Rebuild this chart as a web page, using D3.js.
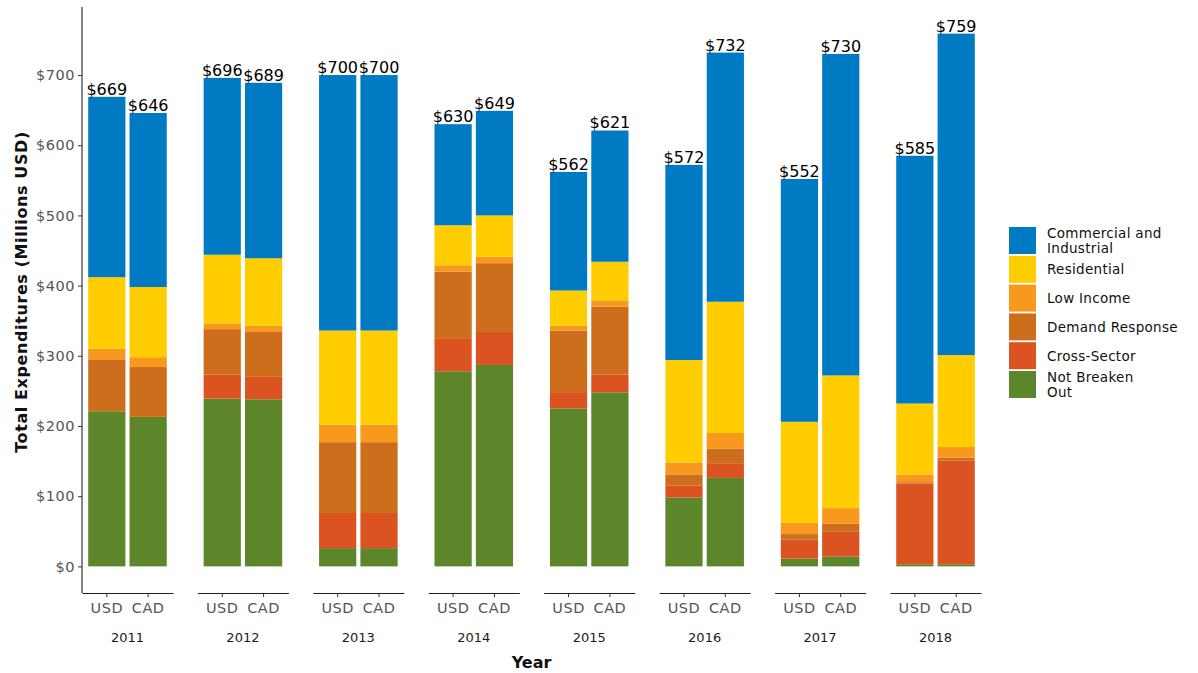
<!DOCTYPE html>
<html>
<head>
<meta charset="utf-8">
<script src="https://cdn.jsdelivr.net/npm/d3@7"></script>
<style>
  body { margin: 0; background: #fff; }
  text { font-family: "DejaVu Sans", sans-serif; }
</style>
</head>
<body>
<script>
var years = ["2011", "2012", "2013", "2014", "2015", "2016", "2017", "2018"];
var currencies = ["USD", "CAD"];
// legend order (top of stack first)
var categories = ["Commercial and Industrial", "Residential", "Low Income",
                  "Demand Response", "Cross-Sector", "Not Breaken Out"];
var colors = ["#007ac2", "#ffcd00", "#f8991d", "#cd6e1c", "#da5320", "#5c8629"];
var yTicks = [0, 100, 200, 300, 400, 500, 600, 700];

// one value per bar: 2011 USD, 2011 CAD, 2012 USD, 2012 CAD, ...
var notBroken      = [221, 213, 239, 238, 26, 26, 278, 287, 225, 248, 98, 126, 11, 14, 3, 3];
var crossSector    = [0, 0, 34, 32, 50, 50, 46, 47, 22, 25, 17, 21, 27, 36, 115, 148];
var demandResponse = [74, 71, 65, 64, 101, 101, 96, 98, 89, 97, 16, 21, 8, 11, 2, 4];
var lowIncome      = [15, 14, 8, 9, 25, 25, 9, 9, 7, 9, 17, 22, 16, 22, 11, 15];
var residential    = [102, 100, 98, 96, 134, 134, 57, 59, 50, 55, 146, 187, 144, 189, 101, 131];
var commercial     = [257, 248, 252, 250, 364, 364, 144, 149, 169, 187, 278, 355, 346, 458, 353, 458];

var seriesByCat = {
  "Commercial and Industrial": commercial,
  "Residential": residential,
  "Low Income": lowIncome,
  "Demand Response": demandResponse,
  "Cross-Sector": crossSector,
  "Not Breaken Out": notBroken
};

var rows = [];
years.forEach(function(yr, i) {
  currencies.forEach(function(cur, j) {
    var k = i * 2 + j;
    var r = {year: yr, cur: cur};
    categories.forEach(function(c) { r[c] = seriesByCat[c][k]; });
    r.total = d3.sum(categories, function(c) { return r[c]; });
    rows.push(r);
  });
});

var color = d3.scaleOrdinal().domain(categories).range(colors);
var stackKeys = categories.slice().reverse(); // bottom first
var stacked = d3.stack().keys(stackKeys)(rows);

var width = 1198, height = 673;
var svg = d3.select("body").append("svg")
    .attr("width", width)
    .attr("height", height);

var maxTotal = d3.max(rows, function(d) { return d.total; });
var y = d3.scaleLinear()
    .domain([-0.05 * maxTotal, maxTotal * 1.05])
    .range([593, 7]);

var xYear = d3.scaleBand().domain(years).range([82, 981]).paddingInner(0.212);
var xCur = d3.scaleBand().domain(currencies).range([0, xYear.bandwidth()])
    .paddingInner(0.1).paddingOuter(0.15);

function barX(d) { return xYear(d.year) + xCur(d.cur); }

// bars
svg.append("g").selectAll("g")
    .data(stacked)
  .enter().append("g")
    .attr("fill", function(s) { return color(s.key); })
  .selectAll("rect")
    .data(function(s) { return s; })
  .enter().append("rect")
    .attr("x", function(d) { return barX(d.data); })
    .attr("width", xCur.bandwidth())
    .attr("y", function(d) { return y(d[1]); })
    .attr("height", function(d) { return y(d[0]) - y(d[1]); });

// total labels
svg.append("g").selectAll("text")
    .data(rows)
  .enter().append("text")
    .attr("x", function(d) { return barX(d) + xCur.bandwidth() / 2; })
    .attr("y", function(d) { return y(d.total) - 2; })
    .attr("text-anchor", "middle")
    .style("font-size", "16px")
    .style("fill", "#000")
    .text(function(d) { return "$" + d3.format(".0f")(d.total); });

// y axis
var yAxis = d3.axisLeft(y).tickValues(yTicks).tickSize(4).tickPadding(3)
    .tickFormat(function(d) { return "$" + d; });
var gy = svg.append("g").attr("transform", "translate(82,0)").call(yAxis);
gy.select(".domain").attr("d", "M0," + y.range()[1] + "V" + y.range()[0])
    .attr("stroke", "#222").attr("stroke-width", 1.1);
gy.selectAll(".tick line").attr("stroke", "#333");
gy.selectAll(".tick text").style("font-size", "14.5px").style("fill", "#555")
    .style("letter-spacing", "0.5px")
    .style("font-family", "DejaVu Sans");

// x axes, one per year panel
years.forEach(function(yr) {
  var sub = d3.scaleBand().domain(currencies)
      .range([xYear(yr), xYear(yr) + xYear.bandwidth()])
      .paddingInner(0.1).paddingOuter(0.15);
  var g = svg.append("g").attr("transform", "translate(0,593)")
      .call(d3.axisBottom(sub).tickSize(4).tickPadding(6).tickSizeOuter(0));
  g.select(".domain").attr("stroke", "#222").attr("stroke-width", 1.1);
  g.selectAll(".tick line").attr("stroke", "#333");
  g.selectAll(".tick text").style("font-size", "14.5px").style("fill", "#555")
      .style("letter-spacing", "0.5px")
      .style("font-family", "DejaVu Sans");
  svg.append("text")
      .attr("x", xYear(yr) + xYear.bandwidth() / 2)
      .attr("y", 642)
      .attr("text-anchor", "middle")
      .style("font-size", "13px")
      .style("fill", "#1a1a1a")
      .text(yr);
});

// axis titles
svg.append("text")
    .attr("x", (82 + 981) / 2)
    .attr("y", 668)
    .attr("text-anchor", "middle")
    .style("font-size", "16px")
    .style("font-weight", "bold")
    .style("fill", "#111")
    .text("Year");

svg.append("text")
    .attr("transform", "translate(27,292) rotate(-90)")
    .attr("text-anchor", "middle")
    .style("font-size", "16px")
    .style("letter-spacing", "0.6px")
    .style("font-weight", "bold")
    .style("fill", "#111")
    .text("Total Expenditures (Millions USD)");

// legend
var legendLines = {
  "Commercial and Industrial": ["Commercial and", "Industrial"],
  "Not Breaken Out": ["Not Breaken", "Out"]
};
var legend = svg.selectAll(".legend")
    .data(categories)
  .enter().append("g")
    .attr("class", "legend")
    .attr("transform", function(d, i) { return "translate(1009," + (227 + i * 28.8) + ")"; });

legend.append("rect")
    .attr("width", 27)
    .attr("height", 27)
    .attr("fill", color);

legend.each(function(d) {
  var lines = legendLines[d] || [d];
  var t = d3.select(this).append("text")
      .attr("x", 38)
      .style("font-size", "13.5px")
      .style("letter-spacing", "0.3px")
      .style("fill", "#111");
  lines.forEach(function(l, i) {
    t.append("tspan")
        .attr("x", 38)
        .attr("y", 18.5 + (i - (lines.length - 1) / 2) * 15)
        .text(l);
  });
});
</script>
</body>
</html>
